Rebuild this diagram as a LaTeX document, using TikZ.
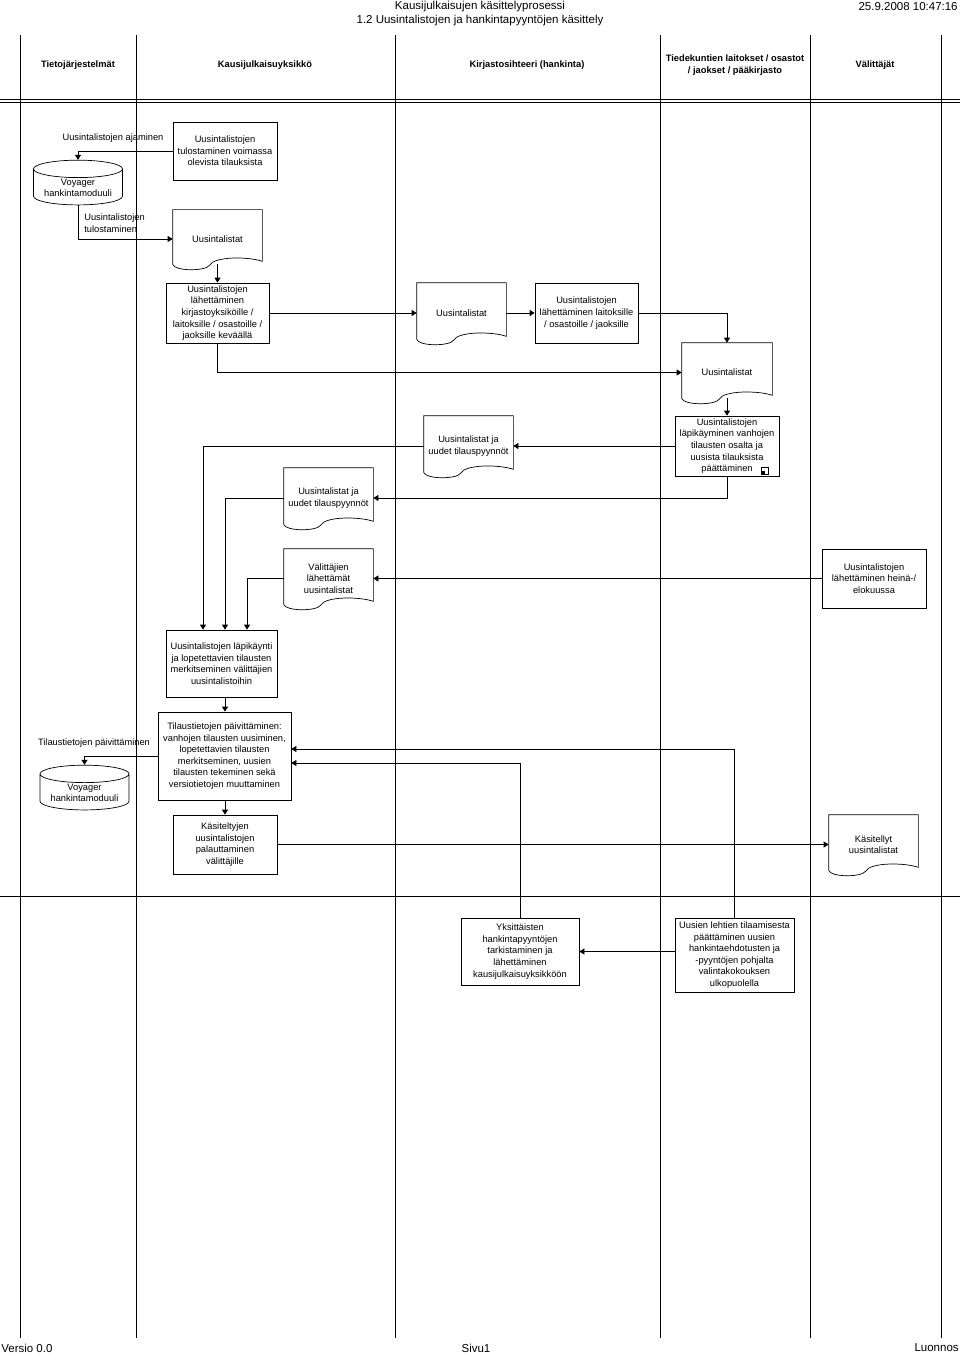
\documentclass[tikz,border=0pt]{standalone}
\usepackage{fontspec}
\setmainfont{Liberation Sans}
\usetikzlibrary{arrows.meta,shapes.geometric}

% document shape with wavy bottom
\newcommand\docoutline[1]{%
  \draw (#1.north west) -- (#1.north east) -- ([yshift=7pt]#1.south east)
    .. controls ([xshift=-14pt,yshift=12pt]#1.south east) and ([xshift=-4pt,yshift=12pt]#1.south) .. ([xshift=-8pt,yshift=3pt]#1.south)
    .. controls ([xshift=-12pt,yshift=-3pt]#1.south) and ([xshift=2pt,yshift=-3pt]#1.south west) .. ([yshift=4pt]#1.south west)
    -- cycle;}

\begin{document}
\begin{tikzpicture}[x=1pt, y=-1pt, line width=0.7pt,
    every node/.style={font=\fontsize{9.3}{11.6}\selectfont, align=center, inner sep=1pt},
    procbox/.style={rectangle, draw},
    docbox/.style={rectangle},
    dbase/.style={cylinder, shape border rotate=90, aspect=0.25, draw},
    lanehead/.style={font=\fontsize{9.3}{11.6}\selectfont\bfseries},
    arr/.style={-{Triangle[width=6pt,length=5pt]}}]
    % background and frame
    \useasboundingbox (0,0) rectangle (960,1356);
    \fill[white] (0,0) rectangle (960,1356);
    \node at (480,7) {\fontsize{11.5}{13}\selectfont Kausijulkaisujen käsittelyprosessi};
    \node at (480,21) {\fontsize{11.5}{13}\selectfont 1.2 Uusintalistojen ja hankintapyyntöjen käsittely};
    \node[anchor=east] at (959,7) {\fontsize{11.5}{13}\selectfont 25.9.2008 10:47:16};
    \foreach \x in {20,136,395,660,810,941}
        \draw (\x,35) -- (\x,1338);
    \draw (0,99) -- (960,99);
    \draw (0,102) -- (960,102);
    \draw (0,896) -- (960,896);
    \node[lanehead] at (78,65) {Tietojärjestelmät};
    \node[lanehead] at (265,65) {Kausijulkaisuyksikkö};
    \node[lanehead] at (527,65) {Kirjastosihteeri (hankinta)};
    \node[lanehead] at (735,65) {Tiedekuntien laitokset / osastot\\/ jaokset / pääkirjasto};
    \node[lanehead] at (875,65) {Välittäjät};
    \node[anchor=west] at (0,1348) {\fontsize{11.5}{13}\selectfont Versio 0.0};
    \node at (476,1348) {\fontsize{11.5}{13}\selectfont Sivu1};
    \node[anchor=east] at (960,1348) {\fontsize{11.5}{13}\selectfont Luonnos};
    % nodes
    \node (tulo) [procbox, minimum width=104, minimum height=58] at (225,151) {Uusintalistojen\\tulostaminen voimassa\\olevista tilauksista};
    \node (voy1) [dbase, minimum width=89, minimum height=44] at (78,188) {Voyager\\hankintamoduuli};
    \node (doc1) [docbox, minimum width=89, minimum height=58] at (217.5,239) {Uusintalistat};
    \node (lah1) [procbox, minimum width=103, minimum height=60] at (217.5,313) {Uusintalistojen\\lähettäminen\\kirjastoyksiköille /\\laitoksille / osastoille /\\jaoksille keväällä};
    \node (doc2) [docbox, minimum width=89, minimum height=60] at (461.5,313) {Uusintalistat};
    \node (lah2) [procbox, minimum width=103, minimum height=60] at (586.5,313) {Uusintalistojen\\lähettäminen laitoksille\\/ osastoille / jaoksille};
    \node (doc3) [docbox, minimum width=90, minimum height=59] at (727,372.5) {Uusintalistat};
    \node (lapi) [procbox, minimum width=104, minimum height=60] at (727,446) {Uusintalistojen\\läpikäyminen vanhojen\\tilausten osalta ja\\uusista tilauksista\\päättäminen};
    \node (doc4) [docbox, minimum width=89, minimum height=60] at (468.5,446) {Uusintalistat ja\\uudet tilauspyynnöt};
    \node (doc5) [docbox, minimum width=89, minimum height=60] at (328.5,498) {Uusintalistat ja\\uudet tilauspyynnöt};
    \node (doc6) [docbox, minimum width=89, minimum height=59] at (328.5,578.5) {Välittäjien\\lähettämät\\uusintalistat};
    \node (hein) [procbox, minimum width=104, minimum height=59] at (874,578.5) {Uusintalistojen\\lähettäminen heinä-/\\elokuussa};
    \node (lapik) [procbox, minimum width=111, minimum height=67] at (221.5,663.5) {Uusintalistojen läpikäynti\\ja lopetettavien tilausten\\merkitseminen välittäjien\\uusintalistoihin};
    \node (tila) [procbox, minimum width=133, minimum height=88] at (224.5,756) {Tilaustietojen päivittäminen:\\vanhojen tilausten uusiminen,\\lopetettavien tilausten\\merkitseminen, uusien\\tilausten tekeminen sekä\\versiotietojen muuttaminen};
    \node (voy2) [dbase, minimum width=89, minimum height=44] at (84.5,793) {Voyager\\hankintamoduuli};
    \node (kasi) [procbox, minimum width=104, minimum height=59] at (225,844.5) {Käsiteltyjen\\uusintalistojen\\palauttaminen\\välittäjille};
    \node (doc7) [docbox, minimum width=89, minimum height=59] at (873.5,844.5) {Käsitellyt\\uusintalistat};
    \node (yks) [procbox, minimum width=118, minimum height=67] at (520,951.5) {Yksittäisten\\hankintapyyntöjen\\tarkistaminen ja\\lähettäminen\\kausijulkaisuyksikköön};
    \node (uus) [procbox, minimum width=119, minimum height=74] at (734.5,955) {Uusien lehtien tilaamisesta\\päättäminen uusien\\hankintaehdotusten ja\\-pyyntöjen pohjalta\\valintakokouksen\\ulkopuolella};
    \foreach \d in {doc1,doc2,doc3,doc4,doc5,doc6,doc7}
        \docoutline{\d}
    % small marker in the corner
    \draw[line width=0.5pt] (761,467) rectangle (768,474);
    \fill (761,471) rectangle (764.5,474);
    % labels
    \node (lbl1) at (113,138) {Uusintalistojen ajaminen};
    \node (lbl2) [anchor=west, align=left] at (83,223) {Uusintalistojen\\tulostaminen};
    \node (lbl3) at (94,743) {Tilaustietojen päivittäminen};
    % arrows
    \draw[arr] (tulo.west) -| (voy1.north);
    \draw[arr] (voy1.south) |- (doc1.west);
    \draw[arr] ([yshift=4pt]doc1.south) -- (lah1.north);
    \draw[arr] (lah1.east) -- (doc2.west);
    \draw[arr] (doc2.east) -- (lah2.west);
    \draw[arr] (lah2.east) -| (doc3.north);
    \draw[arr] (lah1.south) |- (doc3.west);
    \draw[arr] ([yshift=4pt]doc3.south) -- (lapi.north);
    \draw[arr] (lapi.west) -- (doc4.east);
    \draw[arr] (lapi.south) |- (doc5.east);
    \draw[arr] (doc4.west) -| ([xshift=-18.5pt]lapik.north);
    \draw[arr] (doc5.west) -| ([xshift=3.5pt]lapik.north);
    \draw[arr] (doc6.west) -| ([xshift=25.5pt]lapik.north);
    \draw[arr] (hein.west) -- (doc6.east);
    \draw[arr] ([xshift=3.5pt]lapik.south) -- ([xshift=0.5pt]tila.north);
    \draw[arr] (tila.west) -| (voy2.north);
    \draw[arr] (uus.north) |- ([yshift=7pt]tila.east);
    \draw[arr] (yks.north) |- ([yshift=-7pt]tila.east);
    \draw[arr] ([xshift=0.5pt]tila.south) -- (kasi.north);
    \draw[arr] (kasi.east) -- (doc7.west);
    \draw[arr] (uus.west |- yks.east) -- (yks.east);
\end{tikzpicture}
\end{document}
